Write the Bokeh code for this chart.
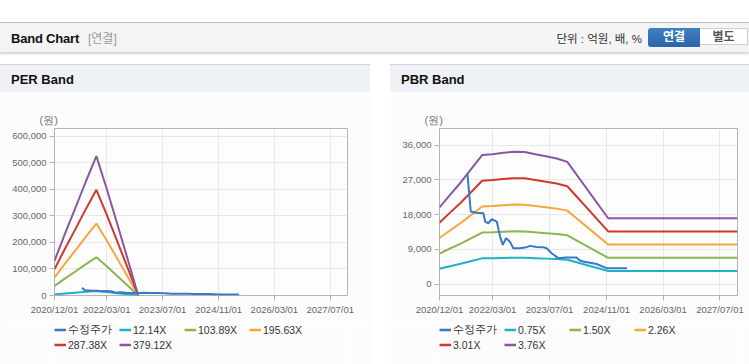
import pandas as pd
from bokeh.plotting import figure
from bokeh.models import (Div, Spacer, Legend, LegendItem, FixedTicker,
                          DatetimeTickFormatter, NumeralTickFormatter, Range1d)
from bokeh.layouts import column, row
from bokeh.embed import file_html
from bokeh.resources import INLINE

FONT = "Liberation Sans"
CSS_FONT = "'Liberation Sans','Noto Sans CJK KR',sans-serif"

# ---------------- data ----------------
x_tick_dates = ["2020-12-01", "2022-03-01", "2023-07-01", "2024-11-01", "2026-03-01", "2027-07-01"]
x_range_dates = ["2020-12-01", "2027-11-28"]

price_label = "수정주가"
price_dates = ["2021-07-28", "2021-08-26", "2021-10-10", "2021-12-12", "2021-12-27", "2022-01-24",
               "2022-02-22", "2022-04-06", "2022-05-04", "2022-05-27", "2022-06-24", "2022-07-28",
               "2022-08-25", "2022-10-20", "2022-12-18", "2023-01-15", "2023-03-10", "2023-05-09",
               "2023-06-07", "2023-07-20", "2023-09-14", "2023-11-20", "2024-02-17", "2024-03-18",
               "2024-04-15", "2024-08-07", "2024-11-01", "2025-04-26"]
price_values = [28700, 18800, 18500, 18350, 16200, 15760,
                16800, 16200, 12300, 10150, 11890, 11000,
                9300, 9300, 9560, 9900, 9600, 9560,
                9300, 8010, 6720, 6900, 6900, 6100,
                5850, 5200, 4130, 4130]

per_dates = ["2020-12-01", "2021-03-01", "2021-06-01", "2021-09-01", "2021-12-01",
             "2022-03-01", "2022-06-01", "2022-09-01", "2022-12-01"]
per_eps = [345, 610, 870, 1135, 1385, 1060, 710, 355, 0]
per_multiples = [12.14, 103.89, 195.63, 287.38, 379.12]
per_y_ticks = [0, 100000, 200000, 300000, 400000, 500000, 600000]
per_y_range = [0, 629000]

pbr_dates = ["2020-12-01", "2021-03-01", "2021-06-01", "2021-09-01", "2021-12-01",
             "2022-03-01", "2022-06-01", "2022-09-01", "2022-12-01", "2023-03-01",
             "2023-06-01", "2023-09-01", "2023-12-01", "2024-11-15", "2027-11-28"]
pbr_bps = [5280, 6150, 7000, 7950, 8890,
           8950, 9050, 9110, 9100, 8950,
           8800, 8650, 8420, 4536, 4536]
pbr_multiples = [0.75, 1.50, 2.26, 3.01, 3.76]
pbr_y_ticks = [0, 9000, 18000, 27000, 36000]
pbr_y_range = [-2950, 40300]

price_color = "#3a77c7"
band_colors = ["#1fb1c8", "#8db54e", "#f4a73b", "#cf392c", "#8c55a2"]
PANEL_BG = "#fcfcfc"


def ms(d):
    return pd.Timestamp(d).value // 10**6


def band_fig(width, left, right, y_range, y_ticks, dates, base, multiples):
    p = figure(width=width, height=228, x_axis_type="datetime",
               output_backend="svg", toolbar_location=None,
               x_range=Range1d(ms(x_range_dates[0]), ms(x_range_dates[1])),
               y_range=Range1d(*y_range),
               min_border_left=left, min_border_right=right,
               min_border_top=35, min_border_bottom=26,
               background_fill_color="#fdfdfd", border_fill_color=PANEL_BG)
    p.margin = 0
    p.title.text = "(원)"
    p.title.align = "left"
    p.title.offset = -15
    p.title.standoff = 6
    p.title.text_font = FONT
    p.title.text_font_size = "11px"
    p.title.text_font_style = "normal"
    p.title.text_color = "#777777"

    p.outline_line_color = "#b4b4b4"
    p.xaxis.ticker = FixedTicker(ticks=[ms(d) for d in x_tick_dates])
    fmt = "%Y/%m/%d"
    p.xaxis.formatter = DatetimeTickFormatter(days=fmt, months=fmt, years=fmt)
    p.yaxis.ticker = FixedTicker(ticks=y_ticks)
    p.yaxis.formatter = NumeralTickFormatter(format="0,0")
    for ax in (p.xaxis[0], p.yaxis[0]):
        ax.axis_line_color = None
        ax.major_tick_in = 0
        ax.major_tick_out = 5
        ax.major_tick_line_color = "#b4b4b4"
        ax.minor_tick_line_color = None
        ax.major_label_text_font = FONT
        ax.major_label_text_font_size = "9.5px"
        ax.major_label_text_color = "#666666"
        ax.major_label_standoff = 3
    p.grid.grid_line_color = "#e8e8e8"

    for m, c in zip(multiples, band_colors):
        vals = [m * b for b in base]
        p.line([ms(d) for d in dates], vals, line_color=c, line_width=2)
    p.line([ms(d) for d in price_dates], price_values, line_color=price_color, line_width=2)

    # legend strip below the chart (legend-only proxy renderers that draw nothing)
    lf = figure(width=width, height=43, output_backend="svg", toolbar_location=None,
                x_axis_location=None, y_axis_location=None,
                x_range=Range1d(0, 1), y_range=Range1d(0, 1),
                min_border_left=left, min_border_right=right, min_border_top=0, min_border_bottom=0,
                background_fill_color=PANEL_BG, border_fill_color=PANEL_BG)
    lf.margin = 0
    lf.outline_line_color = None
    lf.grid.visible = False
    nan = float("nan")
    items = []
    rp = lf.line([nan], [nan], line_color=price_color, line_width=2.5)
    items.append(LegendItem(label=price_label, renderers=[rp]))
    for m, c in zip(multiples, band_colors):
        r = lf.line([nan], [nan], line_color=c, line_width=2.5)
        items.append(LegendItem(label=f"{m:.2f}X", renderers=[r]))
    legend = Legend(items=items, location=(0, 12), orientation="horizontal", ncols=4,
                    spacing=0, padding=0, margin=0, glyph_width=12, glyph_height=15,
                    label_standoff=2, label_width=51, label_height=15,
                    label_text_font=FONT, label_text_font_size="10.5px",
                    label_text_color="#333333",
                    border_line_color=None, background_fill_alpha=0)
    lf.add_layout(legend)
    return p, lf


per, per_leg = band_fig(370, 54, 23, per_y_range, per_y_ticks, per_dates, per_eps, per_multiples)
pbr, pbr_leg = band_fig(359, 49, 12, pbr_y_range, pbr_y_ticks, pbr_dates, pbr_bps, pbr_multiples)

header_html = f"""
<div style="position:relative;width:749px;height:30px;background:#f4f4f4;border-top:1px solid #bdbdbd;
box-shadow:0 2px 2px rgba(0,0,0,0.18);font-family:{CSS_FONT};">
<span style="position:absolute;left:11px;top:7px;font-size:13px;font-weight:bold;color:#111;letter-spacing:-0.2px;">Band Chart</span>
<span style="position:absolute;left:88px;top:8px;font-size:12px;color:#9a9a9a;">[연결]</span>
<span style="position:absolute;right:107px;top:8px;font-size:11.5px;color:#333;white-space:nowrap;">단위 : 억원, 배, %</span>
<span style="position:absolute;left:648px;top:5px;width:52px;height:19px;line-height:19px;text-align:center;
background:linear-gradient(#3f80c4,#2c64a6);color:#fff;font-size:12px;font-weight:bold;border-radius:3px 0 0 3px;">연결</span>
<span style="position:absolute;left:700px;top:5px;width:48px;height:17px;line-height:17px;text-align:center;
background:#fff;border:1px solid #cfcfcf;border-left:none;color:#555;font-size:12px;font-weight:bold;">별도</span>
</div>
"""
header = Div(text=header_html, width=749, height=32, margin=0)


def title_div(text, width, pad):
    html = (f'<div style="width:{width}px;height:28px;border-top:1px solid #d4d4d4;background:#eef1f6;'
            f'font-family:{CSS_FONT};font-size:13px;font-weight:bold;color:#111;line-height:30px;'
            f'padding-left:{pad}px;box-sizing:border-box;overflow:hidden;">{text}</div>')
    return Div(text=html, width=width, height=29, margin=0)


per_col = column(title_div("PER Band", 370, 11), per, per_leg, spacing=0, margin=0)
pbr_col = column(title_div("PBR Band", 359, 11), pbr, pbr_leg, spacing=0, margin=0)

layout = column(
    Spacer(width=749, height=22, margin=0),
    header,
    Spacer(width=749, height=10, margin=0),
    row(per_col, Spacer(width=20, height=300, margin=0), pbr_col, spacing=0, margin=0),
    spacing=0, margin=0,
)

open("out.html", "w").write(file_html(layout, INLINE))
